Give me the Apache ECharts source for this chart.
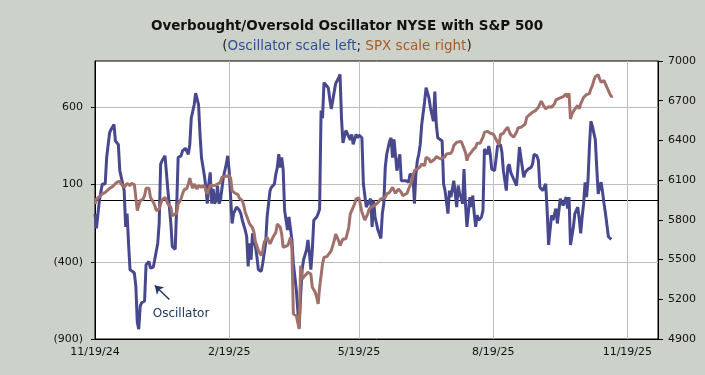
<!DOCTYPE html>
<html>
<head>
<meta charset="utf-8">
<script src="https://cdn.jsdelivr.net/npm/echarts@6/dist/echarts.min.js"></script>
<style>
  html, body { margin: 0; padding: 0; background: #ccd1ca; }
  #chart { width: 705px; height: 375px; }
</style>
</head>
<body>
<div id="chart"></div>
<script>
// Oscillator readings (left scale)
const oscDates = [
  '2024-11-19','2024-11-20','2024-11-22','2024-11-24','2024-11-26','2024-11-27','2024-11-29','2024-11-30',
  '2024-12-02','2024-12-03','2024-12-04','2024-12-05','2024-12-06','2024-12-08','2024-12-09','2024-12-10','2024-12-11','2024-12-12','2024-12-13','2024-12-14','2024-12-16','2024-12-17','2024-12-18','2024-12-19','2024-12-20','2024-12-21','2024-12-23','2024-12-24','2024-12-26','2024-12-27','2024-12-29','2024-12-30',
  '2025-01-01','2025-01-02','2025-01-03','2025-01-04','2025-01-06','2025-01-07','2025-01-08','2025-01-10','2025-01-11','2025-01-12','2025-01-13','2025-01-14','2025-01-15','2025-01-17','2025-01-18','2025-01-19','2025-01-20','2025-01-21','2025-01-22','2025-01-23','2025-01-24','2025-01-26','2025-01-27','2025-01-28','2025-01-29','2025-01-30','2025-01-31',
  '2025-02-02','2025-02-03','2025-02-04','2025-02-05','2025-02-06','2025-02-07','2025-02-08','2025-02-09','2025-02-10','2025-02-11','2025-02-12','2025-02-13','2025-02-14','2025-02-15','2025-02-17','2025-02-18','2025-02-19','2025-02-20','2025-02-21','2025-02-22','2025-02-24','2025-02-26','2025-02-27','2025-02-28',
  '2025-03-02','2025-03-03','2025-03-04','2025-03-05','2025-03-06','2025-03-07','2025-03-09','2025-03-10','2025-03-11','2025-03-13','2025-03-14','2025-03-16','2025-03-17','2025-03-18','2025-03-19','2025-03-20','2025-03-22','2025-03-23','2025-03-24','2025-03-25','2025-03-26','2025-03-27','2025-03-28','2025-03-29','2025-03-30','2025-03-31',
  '2025-04-01','2025-04-02','2025-04-03','2025-04-04','2025-04-06','2025-04-07','2025-04-08','2025-04-09','2025-04-10','2025-04-11','2025-04-13','2025-04-14','2025-04-15','2025-04-16','2025-04-17','2025-04-18','2025-04-20','2025-04-21','2025-04-22','2025-04-23','2025-04-24','2025-04-25','2025-04-26','2025-04-28','2025-04-29','2025-04-30',
  '2025-05-01','2025-05-02','2025-05-03','2025-05-05','2025-05-06','2025-05-07','2025-05-08','2025-05-10','2025-05-13','2025-05-14','2025-05-15','2025-05-17','2025-05-18','2025-05-19','2025-05-21','2025-05-22','2025-05-24','2025-05-25','2025-05-27','2025-05-28','2025-05-29','2025-05-30',
  '2025-06-01','2025-06-03','2025-06-04','2025-06-05','2025-06-06','2025-06-07','2025-06-09','2025-06-10','2025-06-11','2025-06-12','2025-06-14','2025-06-16','2025-06-17','2025-06-20','2025-06-22','2025-06-23','2025-06-25','2025-06-26','2025-06-27','2025-06-28','2025-06-29','2025-06-30',
  '2025-07-01','2025-07-03','2025-07-04','2025-07-06','2025-07-07','2025-07-09','2025-07-10','2025-07-11','2025-07-12','2025-07-13','2025-07-15','2025-07-16','2025-07-17','2025-07-19','2025-07-20','2025-07-21','2025-07-23','2025-07-24','2025-07-25','2025-07-26','2025-07-27','2025-07-28','2025-07-29','2025-07-30','2025-07-31',
  '2025-08-01','2025-08-03','2025-08-04','2025-08-05','2025-08-06','2025-08-07','2025-08-08','2025-08-09','2025-08-11','2025-08-12','2025-08-13','2025-08-15','2025-08-16','2025-08-17','2025-08-18','2025-08-20','2025-08-21','2025-08-22','2025-08-24','2025-08-25','2025-08-26','2025-08-28','2025-08-29','2025-08-30','2025-08-31',
  '2025-09-02','2025-09-04','2025-09-05','2025-09-06','2025-09-07','2025-09-08','2025-09-09','2025-09-10','2025-09-12','2025-09-13','2025-09-14','2025-09-15','2025-09-16','2025-09-17','2025-09-18','2025-09-19','2025-09-20','2025-09-22','2025-09-23','2025-09-24','2025-09-25','2025-09-26','2025-09-28','2025-09-29','2025-09-30',
  '2025-10-01','2025-10-02','2025-10-04','2025-10-05','2025-10-06','2025-10-08','2025-10-09','2025-10-10','2025-10-11','2025-10-13','2025-10-14','2025-10-16','2025-10-17','2025-10-18','2025-10-19','2025-10-20','2025-10-21','2025-10-22','2025-10-23','2025-10-24','2025-10-25','2025-10-26','2025-10-27','2025-10-28','2025-10-29','2025-10-30','2025-10-31',
  '2025-11-01','2025-11-02','2025-11-03','2025-11-04','2025-11-05','2025-11-06','2025-11-07','2025-11-08'
]
const oscValues = [
  -90, -184, -3, 104, 104, 275, 435, 457,
  489, 382, 392, 360, 190, 104, 61, -174, -88, -281, -451, -462, -473, -558, -793, -836, -687, -665, -654, -419, -398, -441, -434, -430,
  -281, -152, 232, 254, 286, 275, 61, -152, -302, -313, -319, -46, 275, 286, 318, 328, 335, 343, 296, 360, 531, 617, 692, 702, 617, 425, 275,
  157, 83, -24, 104, 179, -24, 72, -24, -3, 93, -24, -3, 8, 147, 232, 286, 190, 19, -152, -88, -46, -67, -88, -131,
  -195, -238, -430, -281, -387, -216, -302, -366, -451, -462, -409, -281, -110, -24, 61, 83, 104, 168, 211, 296, 211, 275, 200, -67, -131, -195,
  -110, -99, -259, -409, -580, -708, -825, -622, -451, -387, -323, -259, -345, -451, -323, -131, -110, -88, -58, 580, 530, 760, 750, 725, 650, 590,
  580, 700, 754, 790, 813, 530, 370, 450, 390, 425, 360, 425, 403, 420, 403, 104, -46, -24, 8, -174, -3, -110,
  -195, -249, -88, -24, 211, 296, 382, 403, 275, 392, 190, 296, 125, 125, 115, 168, 157, -24, 168, 254, 296, 360,
  489, 638, 728, 660, 596, 510, 702, 489, 403, 392, 382, 104, 61, -88, 61, 19, 125, 115, -46, 93, 40, 19, -24, 200, -24,
  -174, 19, -46, 29, -88, -174, -99, -131, -110, -67, 330, 296, 350, 296, 200, 190, 179, 350, 360, 307, 190, 61, 211, 232, 179,
  136, 93, 211, 343, 275, 211, 147, 179, 200, 190, 211, 232, 296, 307, 286, 254, 83, 61, 51, 104, -67, -291, -99, -131, -131,
  -56, -152, 8, -3, -35, 19, -56, 19, -291, -174, -88, -46, -120, -216, -110, -24, 115, 19, 125, 350, 510, 478, 435, 392, 211, 40, 83,
  115, 51, -24, -88, -78, -238, -249, -255
]

// S&P 500 closes (right scale)
const spxDates = [
  '2024-11-19','2024-11-20','2024-11-22','2024-11-24','2024-11-26','2024-11-27','2024-11-29',
  '2024-12-01','2024-12-02','2024-12-04','2024-12-06','2024-12-07','2024-12-08','2024-12-09','2024-12-10','2024-12-11','2024-12-13','2024-12-14','2024-12-16','2024-12-18','2024-12-19','2024-12-20','2024-12-22','2024-12-23','2024-12-24','2024-12-26','2024-12-27','2024-12-29','2024-12-30','2024-12-31',
  '2025-01-02','2025-01-03','2025-01-04','2025-01-06','2025-01-07','2025-01-08','2025-01-10','2025-01-11','2025-01-12','2025-01-14','2025-01-15','2025-01-17','2025-01-18','2025-01-19','2025-01-21','2025-01-22','2025-01-23','2025-01-24','2025-01-25','2025-01-26','2025-01-28','2025-01-29','2025-01-30','2025-01-31',
  '2025-02-02','2025-02-03','2025-02-04','2025-02-05','2025-02-06','2025-02-07','2025-02-09','2025-02-11','2025-02-12','2025-02-13','2025-02-14','2025-02-16','2025-02-17','2025-02-19','2025-02-20','2025-02-21','2025-02-23','2025-02-25','2025-02-26','2025-02-27','2025-02-28',
  '2025-03-01','2025-03-02','2025-03-03','2025-03-05','2025-03-06','2025-03-07','2025-03-08','2025-03-09','2025-03-10','2025-03-11','2025-03-13','2025-03-14','2025-03-15','2025-03-16','2025-03-17','2025-03-18','2025-03-19','2025-03-21','2025-03-22','2025-03-23','2025-03-24','2025-03-26','2025-03-27','2025-03-28','2025-03-29','2025-03-31',
  '2025-04-01','2025-04-02','2025-04-03','2025-04-04','2025-04-06','2025-04-07','2025-04-08','2025-04-09','2025-04-10','2025-04-12','2025-04-13','2025-04-14','2025-04-16','2025-04-17','2025-04-18','2025-04-19','2025-04-20','2025-04-21','2025-04-22','2025-04-24','2025-04-25','2025-04-27','2025-04-28','2025-04-30',
  '2025-05-01','2025-05-02','2025-05-03','2025-05-04','2025-05-05','2025-05-06','2025-05-08','2025-05-09','2025-05-10','2025-05-12','2025-05-13','2025-05-14','2025-05-16','2025-05-17','2025-05-19','2025-05-20','2025-05-21','2025-05-23','2025-05-25','2025-05-26','2025-05-28','2025-05-29','2025-05-31',
  '2025-06-01','2025-06-03','2025-06-04','2025-06-06','2025-06-07','2025-06-09','2025-06-10','2025-06-11','2025-06-13','2025-06-14','2025-06-15','2025-06-17','2025-06-18','2025-06-19','2025-06-21','2025-06-22','2025-06-24','2025-06-25','2025-06-26','2025-06-28','2025-06-30',
  '2025-07-01','2025-07-03','2025-07-04','2025-07-06','2025-07-07','2025-07-08','2025-07-10','2025-07-11','2025-07-12','2025-07-14','2025-07-15','2025-07-17','2025-07-18','2025-07-19','2025-07-21','2025-07-22','2025-07-23','2025-07-25','2025-07-26','2025-07-28','2025-07-29','2025-07-30','2025-07-31',
  '2025-08-01','2025-08-02','2025-08-04','2025-08-05','2025-08-07','2025-08-08','2025-08-09','2025-08-10','2025-08-12','2025-08-13','2025-08-14','2025-08-15','2025-08-17','2025-08-19','2025-08-20','2025-08-22','2025-08-23','2025-08-24','2025-08-26','2025-08-27','2025-08-29','2025-08-30','2025-08-31',
  '2025-09-02','2025-09-03','2025-09-04','2025-09-05','2025-09-07','2025-09-08','2025-09-10','2025-09-11','2025-09-13','2025-09-14','2025-09-15','2025-09-16','2025-09-17','2025-09-19','2025-09-20','2025-09-21','2025-09-23','2025-09-24','2025-09-25','2025-09-26','2025-09-28','2025-09-29','2025-09-30',
  '2025-10-01','2025-10-02','2025-10-04','2025-10-06','2025-10-07','2025-10-08','2025-10-09','2025-10-10','2025-10-11','2025-10-12','2025-10-14','2025-10-15','2025-10-16','2025-10-17','2025-10-18','2025-10-19','2025-10-20','2025-10-22','2025-10-23','2025-10-24','2025-10-25','2025-10-26','2025-10-27','2025-10-28','2025-10-30','2025-10-31',
  '2025-11-01','2025-11-02','2025-11-03','2025-11-04','2025-11-05','2025-11-06','2025-11-07','2025-11-08','2025-11-09'
]
const spxValues = [
  5920, 5958, 5975, 5996, 6008, 6021, 6038,
  6051, 6066, 6084, 6091, 6071, 6056, 6046, 6038, 6076, 6059, 6076, 6066, 5870, 5870, 5945, 5958, 5983, 6038, 6038, 5970, 5933, 5907, 5870,
  5882, 5920, 5950, 5970, 5958, 5920, 5895, 5832, 5840, 5850, 5920, 5958, 5996, 6026, 6038, 6071, 6116, 6071, 6038, 6071, 6033, 6059, 6064, 6046,
  6059, 6021, 5996, 6033, 6059, 6046, 6059, 6071, 6066, 6084, 6122, 6127, 6129, 6134, 6116, 6021, 6001, 5991, 5965, 5950, 5945,
  5907, 5857, 5845, 5769, 5774, 5739, 5706, 5631, 5605, 5568, 5530, 5568, 5631, 5643, 5668, 5656, 5618, 5668, 5668, 5706, 5769, 5744, 5693, 5593, 5593, 5605,
  5631, 5668, 5580, 5089, 5077, 5064, 4976, 5454, 5354, 5379, 5391, 5404, 5391, 5291, 5278, 5253, 5215, 5165, 5291, 5467, 5517, 5522, 5530, 5568,
  5580, 5643, 5693, 5668, 5643, 5605, 5656, 5668, 5656, 5744, 5845, 5870, 5920, 5958, 5965, 5950, 5857, 5799, 5845, 5882, 5900, 5907, 5920,
  5933, 5958, 5950, 5970, 5996, 6008, 6026, 6046, 6001, 5991, 6033, 6008, 5983, 5975, 6001, 6033, 6084, 6134, 6172, 6184, 6202,
  6222, 6210, 6273, 6260, 6235, 6222, 6260, 6278, 6273, 6260, 6273, 6278, 6298, 6303, 6303, 6323, 6361, 6386, 6386, 6393, 6368, 6353, 6310,
  6247, 6285, 6310, 6328, 6348, 6378, 6386, 6378, 6424, 6461, 6469, 6469, 6454, 6449, 6429, 6386, 6368, 6444, 6454, 6474, 6499, 6469, 6444,
  6424, 6429, 6461, 6494, 6499, 6499, 6524, 6575, 6595, 6605, 6613, 6605, 6625, 6650, 6676, 6696, 6655, 6638, 6645, 6655, 6650, 6663, 6676,
  6706, 6713, 6721, 6731, 6743, 6751, 6726, 6756, 6562, 6600, 6638, 6650, 6663, 6638, 6676, 6701, 6726, 6746, 6731, 6756, 6789, 6814, 6852, 6882, 6897, 6864,
  6839, 6852, 6852, 6847, 6801, 6789, 6751, 6731, 6736
]

// axis ticks
const dateTicks = ['2024-11-19', '2025-02-19', '2025-05-19', '2025-08-19', '2025-11-19']
const oscTicks = [-900, -400, 100, 600]
const spxTicks = [4900, 5200, 5500, 5800, 6100, 6400, 6700, 7000]

// annotation
const noteText = 'Oscillator'
const noteAt = ['2025-01-17', -740]
const arrowFrom = ['2025-01-09', -644]
const arrowTo = ['2024-12-30', -554]

const FONT = 'DejaVu Sans'
const OSC_COLOR = '#48488f'
const SPX_COLOR = '#a0706a'

function toTime(s) {
  const [y, m, d] = s.split('-').map(Number)
  return new Date(y, m - 1, d).getTime()
}

function fmtDate(t) {
  const d = new Date(t)
  return (d.getMonth() + 1) + '/' + d.getDate() + '/' + String(d.getFullYear()).slice(2)
}

function fmtOsc(v) {
  return v < 0 ? '(' + (-v) + ')' : String(v)
}

const chart = echarts.init(document.getElementById('chart'))

// dates are kept as timestamps on a plain value axis
const xMin = toTime('2024-11-19')
const xMax = toTime('2025-12-10')
const tickTimes = dateTicks.map(toTime)

// x axis on the zero line: only the line and small ticks
function zeroAxis(position) {
  return {
    type: 'value',
    min: xMin,
    max: xMax,
    position: position,
    axisLine: { show: true, onZero: true, onZeroAxisIndex: 0, lineStyle: { color: '#000', width: 1 } },
    axisTick: { show: true, customValues: tickTimes.slice(1), length: 3, lineStyle: { color: '#000' } },
    axisLabel: { show: false },
    splitLine: { show: false }
  }
}

const subStyle = { fontFamily: FONT, fontSize: 13.5, fontWeight: 'normal' }

const option = {
  backgroundColor: '#ccd1ca',
  animation: false,
  title: [
    {
      text: 'Overbought/Oversold Oscillator NYSE with S&P 500',
      left: 342,
      top: 14,
      textAlign: 'center',
      textStyle: { fontFamily: FONT, fontSize: 13.5, fontWeight: 'bold', color: '#111' }
    },
    {
      text: '{p|(}{a|Oscillator scale left}{p|; }{b|SPX scale right}{p|)}',
      left: 342,
      top: 34,
      textAlign: 'center',
      textStyle: {
        fontWeight: 'normal',
        rich: {
          p: Object.assign({ color: '#222' }, subStyle),
          a: Object.assign({ color: '#2e5090' }, subStyle),
          b: Object.assign({ color: '#a85a28' }, subStyle)
        }
      }
    }
  ],
  grid: {
    left: 95,
    right: 47,
    top: 61,
    bottom: 36,
    show: true,
    backgroundColor: '#fff',
    borderColor: '#000',
    borderWidth: 1
  },
  xAxis: [
    {
      type: 'value',
      min: xMin,
      max: xMax,
      position: 'bottom',
      axisLine: { show: true, onZero: false, lineStyle: { color: '#000' } },
      axisTick: { show: false },
      axisLabel: {
        customValues: tickTimes,
        formatter: fmtDate,
        fontFamily: FONT,
        fontSize: 11,
        color: '#111',
        margin: 8,
        hideOverlap: false
      },
      splitLine: { show: false }
    },
    zeroAxis('top'),
    zeroAxis('bottom')
  ],
  yAxis: [
    {
      type: 'value',
      position: 'left',
      min: -900,
      max: 900,
      interval: 500,
      axisLine: { show: true, onZero: false, lineStyle: { color: '#000' } },
      axisTick: { show: true, customValues: oscTicks, length: 4, lineStyle: { color: '#000' } },
      axisLabel: {
        customValues: oscTicks,
        formatter: fmtOsc,
        fontFamily: FONT,
        fontSize: 11,
        color: '#111',
        margin: 12
      },
      splitLine: { show: true, lineStyle: { color: '#bdbdbd', width: 1 } }
    },
    {
      type: 'value',
      position: 'right',
      min: 4900,
      max: 7000,
      interval: 300,
      axisLine: { show: true, onZero: false, lineStyle: { color: '#000' } },
      axisTick: { show: true, customValues: spxTicks, length: 5, lineStyle: { color: '#000' } },
      axisLabel: {
        customValues: spxTicks,
        formatter: v => String(v),
        fontFamily: FONT,
        fontSize: 11,
        color: '#111',
        margin: 10
      },
      splitLine: { show: false }
    }
  ],
  series: [
    {
      name: 'Oscillator',
      type: 'line',
      xAxisIndex: 0,
      yAxisIndex: 0,
      data: oscDates.map((d, i) => [toTime(d), oscValues[i]]),
      showSymbol: false,
      lineStyle: { color: OSC_COLOR, width: 3 },
      itemStyle: { color: OSC_COLOR },
      markLine: {
        silent: true,
        z: 1,
        symbol: ['none', 'none'],
        label: { show: false },
        data: tickTimes.slice(1).map(t => ({
          xAxis: t,
          lineStyle: { color: '#bdbdbd', width: 1, type: 'solid' }
        })).concat([[
          { coord: [toTime(arrowFrom[0]), arrowFrom[1]], symbol: 'none', lineStyle: { color: '#1f3864', width: 1.5, type: 'solid' } },
          { coord: [toTime(arrowTo[0]), arrowTo[1]], symbol: 'arrow', symbolSize: 8 }
        ]])
      },
      markPoint: {
        silent: true,
        symbol: 'circle',
        symbolSize: 1,
        itemStyle: { color: 'rgba(0,0,0,0)' },
        label: {
          show: true,
          position: 'inside',
          formatter: noteText,
          fontFamily: FONT,
          fontSize: 12,
          color: '#1f3864'
        },
        data: [{ coord: [toTime(noteAt[0]), noteAt[1]] }]
      }
    },
    {
      name: 'SPX',
      type: 'line',
      xAxisIndex: 0,
      yAxisIndex: 1,
      data: spxDates.map((d, i) => [toTime(d), spxValues[i]]),
      showSymbol: false,
      lineStyle: { color: SPX_COLOR, width: 3 },
      itemStyle: { color: SPX_COLOR }
    }
  ]
}

chart.setOption(option)
</script>
</body>
</html>
